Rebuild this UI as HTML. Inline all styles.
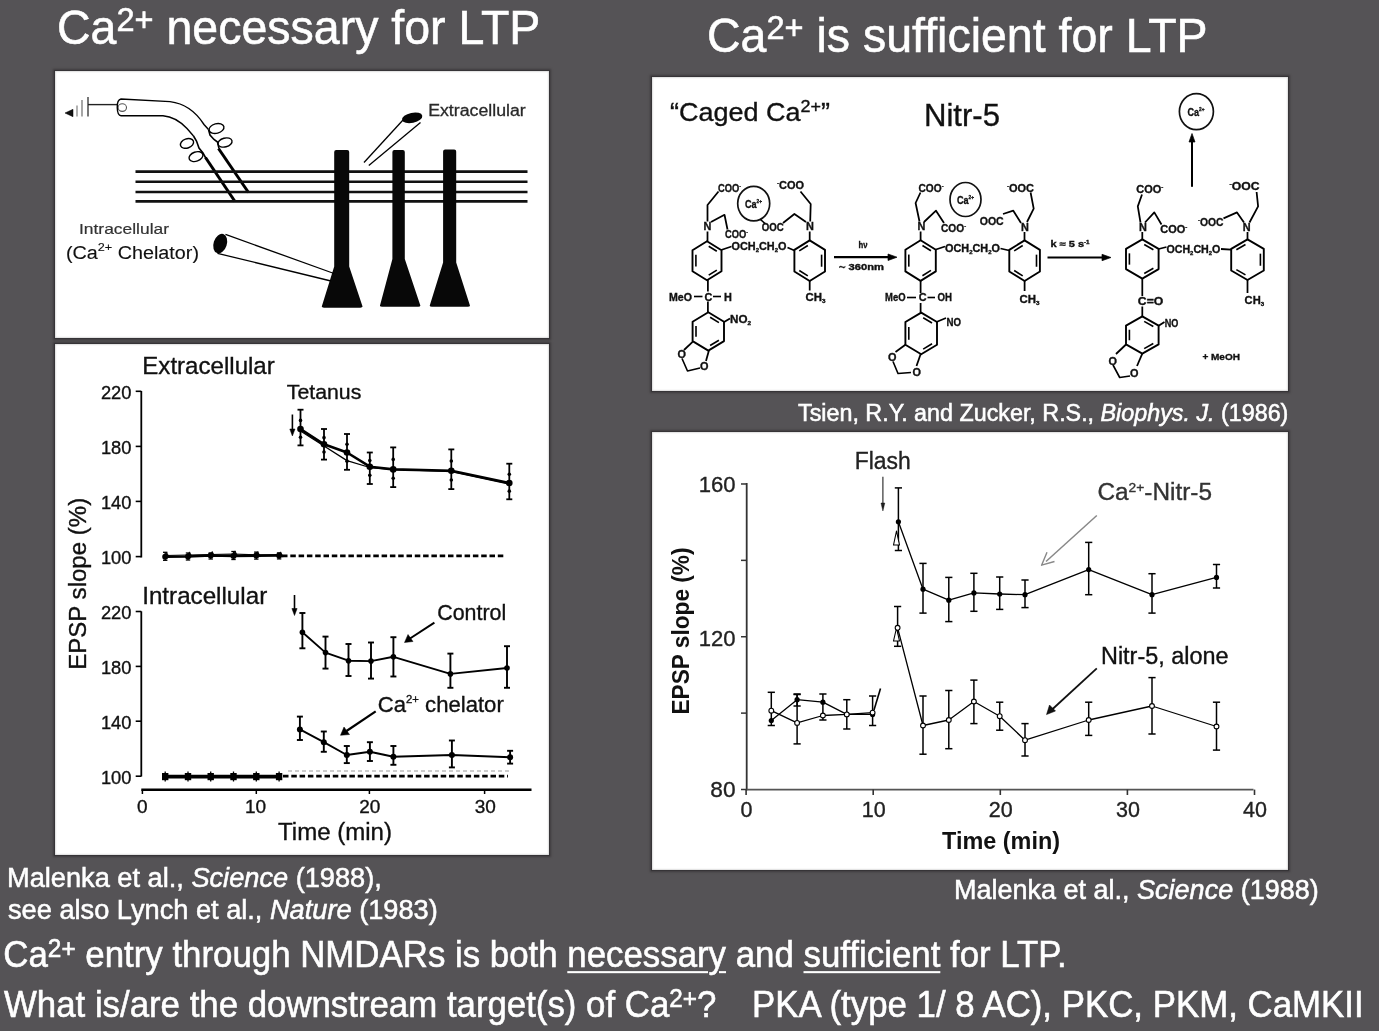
<!DOCTYPE html>
<html><head><meta charset="utf-8">
<style>
html,body{margin:0;padding:0;}
body{width:1379px;height:1031px;background:#555356;position:relative;overflow:hidden;font-family:"Liberation Sans",sans-serif;color:#fff;}
.t{position:absolute;white-space:pre;line-height:1;-webkit-text-stroke:0.55px #fff;transform:scaleY(1.035);transform-origin:0 0.8467em;}
.box{position:absolute;background:#fff;box-shadow:inset 0 0 1.5px 0.5px rgba(0,0,0,0.22), 0 0 0 1px #363437, 0 0 2px 2px rgba(40,38,40,0.5);}
sup{font-size:0.7em;vertical-align:0;position:relative;top:-0.42em;}
u{text-decoration:underline;text-decoration-thickness:2px;text-underline-offset:4px;}
svg{position:absolute;left:0;top:0;}
</style></head><body>
<div id="wrap" style="position:absolute;left:0;top:0;width:1379px;height:1031px;filter:blur(0.45px);">
<div class="t" id="t1" style="left:57px;top:5.1px;font-size:46.5px;">Ca<sup style="top:-0.39em">2+</sup> necessary for LTP</div>
<div class="t" id="t2" style="left:707px;top:12.7px;font-size:46.5px;">Ca<sup style="top:-0.39em">2+</sup> is sufficient for LTP</div>
<div class="box" id="b1" style="left:55px;top:71px;width:494px;height:267px;"></div>
<div class="box" id="b2" style="left:55px;top:344px;width:494px;height:511px;"></div>
<div class="box" id="b3" style="left:652px;top:77px;width:636px;height:314px;"></div>
<div class="box" id="b4" style="left:652px;top:432px;width:636px;height:438px;"></div>
<svg width="1379" height="1031" viewBox="0 0 1379 1031" font-family='"Liberation Sans", sans-serif'>
<polygon points="65.0,113.0 73.0,109.3 73.0,116.7" stroke="#000" stroke-width="0.5" fill="#111" stroke-linejoin="round"/>
<line x1="77" y1="105.5" x2="77" y2="116.5" stroke="#888" stroke-width="1.3"/>
<line x1="82" y1="100" x2="82" y2="116.5" stroke="#777" stroke-width="1.3"/>
<line x1="88" y1="97" x2="88" y2="116.5" stroke="#555" stroke-width="1.6"/>
<line x1="88" y1="104.6" x2="117.5" y2="104.6" stroke="#222" stroke-width="1.4"/>
<ellipse cx="122.3" cy="107.6" rx="4.2" ry="3.8" stroke="#555" stroke-width="1.1" fill="none"/>
<path d="M193.5,136 L187,128.5 C180,121 173,116.5 163,115.7 L121,115.7 C116.5,115.5 115.5,100 121,99 L170,101.6 C186,103.5 196,112 204,124.5 L208.5,129.5" stroke="#000" stroke-width="1.4" fill="none"/>
<ellipse cx="187" cy="143.4" rx="6.8" ry="4.6" transform="rotate(-20 187 143.4)" stroke="#000" stroke-width="1.4" fill="none"/>
<ellipse cx="196" cy="156.6" rx="7.2" ry="4.6" transform="rotate(-20 196 156.6)" stroke="#000" stroke-width="1.4" fill="none"/>
<path d="M193.5,136 L196.5,141 L199,148 L203,153 L206,158.5" stroke="#000" stroke-width="1.6" fill="none"/>
<ellipse cx="216.5" cy="128.5" rx="7.6" ry="4.8" transform="rotate(-15 216.5 128.5)" stroke="#000" stroke-width="1.4" fill="none"/>
<ellipse cx="225" cy="142.5" rx="7.2" ry="4.4" transform="rotate(-15 225 142.5)" stroke="#000" stroke-width="1.4" fill="none"/>
<path d="M208.5,129.5 L210,135 L214,139.5 L217.5,142 L219,148.5" stroke="#000" stroke-width="1.6" fill="none"/>
<line x1="205.5" y1="157.5" x2="235" y2="201.5" stroke="#000" stroke-width="3.0"/>
<line x1="218.5" y1="148.5" x2="248.5" y2="192.5" stroke="#000" stroke-width="3.0"/>
<line x1="135.5" y1="171.6" x2="527.5" y2="171.6" stroke="#111" stroke-width="2.6"/>
<line x1="135.5" y1="181.8" x2="527.5" y2="181.8" stroke="#111" stroke-width="2.6"/>
<line x1="135.5" y1="192.0" x2="527.5" y2="192.0" stroke="#111" stroke-width="2.6"/>
<line x1="135.5" y1="201.4" x2="527.5" y2="201.4" stroke="#111" stroke-width="2.6"/>
<path d="M334.2,152 Q334.2,150 336.2,150 L347.2,150 Q349.2,150 349.2,152 L349.2,266.4 L362.3,305.7 Q363.3,307.7 360.3,307.7 L324,307.7 Q321,307.7 322,305.7 L334.2,266.4 Z" fill="#080808" stroke="none"/>
<path d="M392.4,152 Q392.4,150 394.4,150 L402.8,150 Q404.8,150 404.8,152 L404.8,258.9 L420.1,304.8 Q421.1,306.8 418.1,306.8 L382.2,306.8 Q379.2,306.8 380.2,304.8 L392.4,258.9 Z" fill="#080808" stroke="none"/>
<path d="M443.1,151.5 Q443.1,149.5 445.1,149.5 L454.2,149.5 Q456.2,149.5 456.2,151.5 L456.2,262.6 L469.7,304.8 Q470.7,306.8 467.7,306.8 L432,306.8 Q429,306.8 430,304.8 L443.1,262.6 Z" fill="#080808" stroke="none"/>
<ellipse cx="412.2" cy="117.8" rx="10.3" ry="5" transform="rotate(-12 412.2 117.8)" fill="#050505"/>
<line x1="403" y1="120" x2="364" y2="162.5" stroke="#000" stroke-width="1.3"/>
<line x1="420.5" y1="122.5" x2="368.8" y2="165.5" stroke="#000" stroke-width="1.3"/>
<text x="428.2" y="116" font-size="16" textLength="97.5" lengthAdjust="spacingAndGlyphs" fill="#2a2a2a" stroke="#2a2a2a" stroke-width="0.3">Extracellular</text>
<line x1="225.5" y1="234.4" x2="334" y2="273.5" stroke="#000" stroke-width="1.3"/>
<line x1="217.5" y1="253.3" x2="331" y2="281" stroke="#000" stroke-width="1.3"/>
<ellipse cx="220.2" cy="243.6" rx="6.6" ry="10" transform="rotate(18 220.2 243.6)" fill="#050505"/>
<text x="79" y="233.6" font-size="15" textLength="90" lengthAdjust="spacingAndGlyphs" fill="#333" stroke="#333" stroke-width="0.2">Intracellular</text>
<text x="66" y="258.8" font-size="18" textLength="133" lengthAdjust="spacingAndGlyphs" fill="#111" stroke="#111" stroke-width="0.12">(Ca<tspan font-size="11.5" dy="-7.5">2+</tspan><tspan dy="7.5"> Chelator)</tspan></text>
<text x="670" y="121" font-size="25.5" textLength="160" lengthAdjust="spacingAndGlyphs" fill="#111" stroke="#111" stroke-width="0.35">“Caged Ca<tspan font-size="17" dy="-9">2+</tspan><tspan dy="9">”</tspan></text>
<text x="924" y="125.6" font-size="31" textLength="76" lengthAdjust="spacingAndGlyphs" fill="#111" stroke="#111" stroke-width="0.35">Nitr-5</text>
<polygon points="707.0,241.2 721.5,250.2 721.5,271.2 707.0,280.2 692.5,271.2 692.5,250.2" stroke="#000" stroke-width="1.89" fill="none" stroke-linejoin="round"/>
<line x1="708.7104265541632" y1="246.24118643966258" x2="716.8304265541631" y2="251.2811864396626" stroke="#000" stroke-width="1.62"/>
<line x1="716.8304265541631" y1="270.1188135603374" x2="708.7104265541632" y2="275.15881356033736" stroke="#000" stroke-width="1.62"/>
<line x1="695.9" y1="266.58" x2="695.9" y2="254.82" stroke="#000" stroke-width="1.62"/>
<polygon points="809.7,240.4 825.0,249.9 825.0,271.5 809.7,281.0 794.4,271.5 794.4,249.9" stroke="#000" stroke-width="1.89" fill="none" stroke-linejoin="round"/>
<line x1="821.6" y1="254.652" x2="821.6" y2="266.748" stroke="#000" stroke-width="1.62"/>
<line x1="807.8348752961049" y1="275.8592011954994" x2="799.2668752961049" y2="270.53920119549934" stroke="#000" stroke-width="1.62"/>
<line x1="799.2668752961049" y1="250.86079880450058" x2="807.8348752961049" y2="245.54079880450058" stroke="#000" stroke-width="1.62"/>
<polygon points="708.3,312.2 724.0,321.7 724.0,341.1 708.3,350.6 692.6,341.1 692.6,321.7" stroke="#000" stroke-width="1.89" fill="none" stroke-linejoin="round"/>
<line x1="710.1309752050354" y1="317.2776061512405" x2="718.9229752050353" y2="322.59760615124054" stroke="#000" stroke-width="1.62"/>
<line x1="718.9229752050353" y1="340.2023938487594" x2="710.1309752050354" y2="345.52239384875946" stroke="#000" stroke-width="1.62"/>
<line x1="695.9999999999999" y1="336.832" x2="695.9999999999999" y2="325.96799999999996" stroke="#000" stroke-width="1.62"/>
<text x="703.5" y="230" font-size="10.88" font-weight="bold" fill="#111" stroke="#111" stroke-width="0.35">N</text>
<line x1="707.5" y1="241" x2="707.5" y2="231.5" stroke="#000" stroke-width="1.76"/>
<polyline points="707.5,221.5 707.5,205.0 718.5,191.5" stroke="#000" stroke-width="1.76" fill="none" stroke-linejoin="round"/>
<text x="718" y="192.3" font-size="10.88" font-weight="bold" textLength="23" lengthAdjust="spacingAndGlyphs" fill="#111" stroke="#111" stroke-width="0.35">COO<tspan font-size="6" dy="-4">-</tspan></text>
<polyline points="711.0,222.0 724.5,214.8 727.5,229.5" stroke="#000" stroke-width="1.76" fill="none" stroke-linejoin="round"/>
<text x="725" y="238.2" font-size="10.88" font-weight="bold" textLength="23" lengthAdjust="spacingAndGlyphs" fill="#111" stroke="#111" stroke-width="0.35">COO<tspan font-size="6" dy="-4">-</tspan></text>
<ellipse cx="753.7" cy="203.6" rx="16" ry="17.3" stroke="#111" stroke-width="1.7" fill="none"/>
<text x="745" y="207.8" font-size="11.52" font-weight="bold" textLength="17" lengthAdjust="spacingAndGlyphs" fill="#111" stroke="#111" stroke-width="0.35">Ca<tspan font-size="6" dy="-5">2+</tspan></text>
<line x1="721.1" y1="250" x2="731.5" y2="246.5" stroke="#000" stroke-width="1.76"/>
<text x="731.5" y="250.4" font-size="10.88" font-weight="bold" textLength="55" lengthAdjust="spacingAndGlyphs" fill="#111" stroke="#111" stroke-width="0.35">OCH<tspan font-size="6" dy="2">2</tspan><tspan dy="-2">CH</tspan><tspan font-size="6" dy="2">2</tspan><tspan dy="-2">O</tspan></text>
<line x1="787.5" y1="247.5" x2="794.4" y2="250.5" stroke="#000" stroke-width="1.76"/>
<text x="806" y="230" font-size="10.88" font-weight="bold" fill="#111" stroke="#111" stroke-width="0.35">N</text>
<line x1="809.7" y1="240.5" x2="809.7" y2="231.5" stroke="#000" stroke-width="1.76"/>
<polyline points="810.2,221.5 810.7,204.0 800.5,191.5" stroke="#000" stroke-width="1.76" fill="none" stroke-linejoin="round"/>
<text x="777" y="189" font-size="10.88" font-weight="bold" textLength="27" lengthAdjust="spacingAndGlyphs" fill="#111" stroke="#111" stroke-width="0.35"><tspan font-size="6" dy="-4">-</tspan><tspan dy="4">COO</tspan></text>
<polyline points="806.0,222.0 794.4,214.0 783.0,223.0" stroke="#000" stroke-width="1.76" fill="none" stroke-linejoin="round"/>
<text x="761.8" y="231" font-size="10.88" font-weight="bold" textLength="22" lengthAdjust="spacingAndGlyphs" fill="#111" stroke="#111" stroke-width="0.35">OOC</text>
<line x1="760.5" y1="219.5" x2="765" y2="223.5" stroke="#000" stroke-width="1.62"/>
<line x1="809.7" y1="281" x2="809.7" y2="290.5" stroke="#000" stroke-width="1.76"/>
<text x="805.5" y="301" font-size="10.88" font-weight="bold" textLength="20" lengthAdjust="spacingAndGlyphs" fill="#111" stroke="#111" stroke-width="0.35">CH<tspan font-size="6" dy="2">3</tspan></text>
<line x1="707.9" y1="280" x2="707.9" y2="291.5" stroke="#000" stroke-width="1.76"/>
<text x="669" y="300.5" font-size="10.88" font-weight="bold" textLength="23" lengthAdjust="spacingAndGlyphs" fill="#111" stroke="#111" stroke-width="0.35">MeO</text>
<line x1="694" y1="296.5" x2="702.5" y2="296.5" stroke="#000" stroke-width="1.62"/>
<text x="704.5" y="300.5" font-size="10.88" font-weight="bold" fill="#111" stroke="#111" stroke-width="0.35">C</text>
<line x1="713" y1="296.5" x2="721" y2="296.5" stroke="#000" stroke-width="1.62"/>
<text x="724" y="300.5" font-size="10.88" font-weight="bold" fill="#111" stroke="#111" stroke-width="0.35">H</text>
<line x1="707.9" y1="301.5" x2="707.9" y2="312" stroke="#000" stroke-width="1.76"/>
<line x1="724.1" y1="321.9" x2="730" y2="318.5" stroke="#000" stroke-width="1.76"/>
<text x="730" y="322.5" font-size="10.88" font-weight="bold" textLength="21" lengthAdjust="spacingAndGlyphs" fill="#111" stroke="#111" stroke-width="0.35">NO<tspan font-size="6" dy="2">2</tspan></text>
<polyline points="692.6,341.9 684.0,350.0" stroke="#000" stroke-width="1.76" fill="none" stroke-linejoin="round"/>
<text x="677.5" y="357.5" font-size="10.88" font-weight="bold" fill="#111" stroke="#111" stroke-width="0.35">O</text>
<polyline points="682.0,358.5 687.5,371.0 700.0,368.0" stroke="#000" stroke-width="1.62" fill="none" stroke-linejoin="round"/>
<polyline points="708.9,350.6 706.0,361.0" stroke="#000" stroke-width="1.76" fill="none" stroke-linejoin="round"/>
<text x="700" y="369.5" font-size="10.88" font-weight="bold" fill="#111" stroke="#111" stroke-width="0.35">O</text>
<line x1="834" y1="257.2" x2="890" y2="257.2" stroke="#000" stroke-width="2.16"/>
<polygon points="897.0,257.2 888.0,254.0 888.0,260.5" stroke="#000" stroke-width="0.68" fill="#000" stroke-linejoin="round"/>
<text x="858.5" y="247.5" font-size="8.96" font-weight="bold" textLength="9" lengthAdjust="spacingAndGlyphs" fill="#111" stroke="#111" stroke-width="0.35">hν</text>
<text x="839" y="269.8" font-size="8.32" font-weight="bold" textLength="45" lengthAdjust="spacingAndGlyphs" fill="#111" stroke="#111" stroke-width="0.35">~ 360nm</text>
<polygon points="920.6,240.3 935.8,249.8 935.8,271.4 920.6,280.9 905.4,271.4 905.4,249.8" stroke="#000" stroke-width="1.89" fill="none" stroke-linejoin="round"/>
<line x1="922.4510378890265" y1="245.44467905600527" x2="930.9630378890264" y2="250.76467905600526" stroke="#000" stroke-width="1.62"/>
<line x1="930.9630378890264" y1="270.4353209439948" x2="922.4510378890265" y2="275.75532094399483" stroke="#000" stroke-width="1.62"/>
<line x1="908.8" y1="266.648" x2="908.8" y2="254.55200000000002" stroke="#000" stroke-width="1.62"/>
<polygon points="1024.6,240.4 1039.9,249.9 1039.9,271.5 1024.6,281.0 1009.3,271.5 1009.3,249.9" stroke="#000" stroke-width="1.89" fill="none" stroke-linejoin="round"/>
<line x1="1036.4999999999998" y1="254.652" x2="1036.4999999999998" y2="266.748" stroke="#000" stroke-width="1.62"/>
<line x1="1022.7348752961047" y1="275.8592011954994" x2="1014.1668752961048" y2="270.53920119549934" stroke="#000" stroke-width="1.62"/>
<line x1="1014.1668752961048" y1="250.86079880450058" x2="1022.7348752961047" y2="245.54079880450058" stroke="#000" stroke-width="1.62"/>
<polygon points="921.2,312.6 937.0,322.0 937.0,344.8 921.2,354.2 905.4,344.8 905.4,322.0" stroke="#000" stroke-width="1.89" fill="none" stroke-linejoin="round"/>
<line x1="923.1782667044621" y1="317.7203425390078" x2="932.026266704462" y2="322.9843425390078" stroke="#000" stroke-width="1.62"/>
<line x1="932.026266704462" y1="343.81565746099216" x2="923.1782667044621" y2="349.07965746099217" stroke="#000" stroke-width="1.62"/>
<line x1="908.8000000000001" y1="339.784" x2="908.8000000000001" y2="327.01599999999996" stroke="#000" stroke-width="1.62"/>
<text x="917.5" y="230" font-size="10.88" font-weight="bold" fill="#111" stroke="#111" stroke-width="0.35">N</text>
<line x1="920.6" y1="240.3" x2="920.6" y2="231.5" stroke="#000" stroke-width="1.76"/>
<polyline points="919.5,221.5 915.6,203.0 920.5,192.5" stroke="#000" stroke-width="1.76" fill="none" stroke-linejoin="round"/>
<text x="918.5" y="191.8" font-size="10.88" font-weight="bold" textLength="25" lengthAdjust="spacingAndGlyphs" fill="#111" stroke="#111" stroke-width="0.35">COO<tspan font-size="6" dy="-4">-</tspan></text>
<polyline points="924.0,222.0 936.0,210.7 944.0,223.0" stroke="#000" stroke-width="1.76" fill="none" stroke-linejoin="round"/>
<text x="941" y="232.3" font-size="10.88" font-weight="bold" textLength="25" lengthAdjust="spacingAndGlyphs" fill="#111" stroke="#111" stroke-width="0.35">COO<tspan font-size="6" dy="-4">-</tspan></text>
<ellipse cx="965.5" cy="199.5" rx="15.5" ry="17" stroke="#111" stroke-width="1.7" fill="none"/>
<text x="957" y="203.8" font-size="11.52" font-weight="bold" textLength="17" lengthAdjust="spacingAndGlyphs" fill="#111" stroke="#111" stroke-width="0.35">Ca<tspan font-size="6" dy="-5">2+</tspan></text>
<line x1="935.9" y1="249.5" x2="945" y2="246.5" stroke="#000" stroke-width="1.76"/>
<text x="945" y="251.5" font-size="10.88" font-weight="bold" textLength="55" lengthAdjust="spacingAndGlyphs" fill="#111" stroke="#111" stroke-width="0.35">OCH<tspan font-size="6" dy="2">2</tspan><tspan dy="-2">CH</tspan><tspan font-size="6" dy="2">2</tspan><tspan dy="-2">O</tspan></text>
<line x1="1000.5" y1="248.5" x2="1009.3" y2="250.5" stroke="#000" stroke-width="1.76"/>
<text x="1021" y="231" font-size="10.88" font-weight="bold" fill="#111" stroke="#111" stroke-width="0.35">N</text>
<line x1="1024.5" y1="240.5" x2="1024.5" y2="232" stroke="#000" stroke-width="1.76"/>
<polyline points="1027.0,222.0 1033.7,208.7 1030.6,192.5" stroke="#000" stroke-width="1.76" fill="none" stroke-linejoin="round"/>
<text x="1007" y="192.4" font-size="10.88" font-weight="bold" textLength="27" lengthAdjust="spacingAndGlyphs" fill="#111" stroke="#111" stroke-width="0.35"><tspan font-size="6" dy="-4">-</tspan><tspan dy="4">OOC</tspan></text>
<polyline points="1021.0,223.0 1013.3,210.7 1003.0,214.0" stroke="#000" stroke-width="1.76" fill="none" stroke-linejoin="round"/>
<text x="979.7" y="225" font-size="10.88" font-weight="bold" textLength="24" lengthAdjust="spacingAndGlyphs" fill="#111" stroke="#111" stroke-width="0.35">OOC</text>
<line x1="1024.6" y1="281" x2="1024.6" y2="291" stroke="#000" stroke-width="1.76"/>
<text x="1019.4" y="302.5" font-size="10.88" font-weight="bold" textLength="20" lengthAdjust="spacingAndGlyphs" fill="#111" stroke="#111" stroke-width="0.35">CH<tspan font-size="6" dy="2">3</tspan></text>
<line x1="920.6" y1="281" x2="920.6" y2="293" stroke="#000" stroke-width="1.76"/>
<text x="885" y="301.4" font-size="10.88" font-weight="bold" textLength="20.5" lengthAdjust="spacingAndGlyphs" fill="#111" stroke="#111" stroke-width="0.35">MeO</text>
<line x1="907" y1="297.5" x2="916" y2="297.5" stroke="#000" stroke-width="1.62"/>
<text x="918.8" y="301.4" font-size="10.88" font-weight="bold" fill="#111" stroke="#111" stroke-width="0.35">C</text>
<line x1="927.5" y1="297.5" x2="935" y2="297.5" stroke="#000" stroke-width="1.62"/>
<text x="937.5" y="301.4" font-size="10.88" font-weight="bold" textLength="14.5" lengthAdjust="spacingAndGlyphs" fill="#111" stroke="#111" stroke-width="0.35">OH</text>
<line x1="920.6" y1="303" x2="920.6" y2="312.6" stroke="#000" stroke-width="1.76"/>
<line x1="937" y1="321.8" x2="946" y2="318" stroke="#000" stroke-width="1.76"/>
<text x="946.5" y="325.5" font-size="10.88" font-weight="bold" textLength="14.5" lengthAdjust="spacingAndGlyphs" fill="#111" stroke="#111" stroke-width="0.35">NO</text>
<polyline points="905.4,344.8 895.5,352.0" stroke="#000" stroke-width="1.76" fill="none" stroke-linejoin="round"/>
<text x="888" y="360.5" font-size="10.88" font-weight="bold" fill="#111" stroke="#111" stroke-width="0.35">O</text>
<polyline points="893.0,361.5 898.0,373.5 911.0,372.5" stroke="#000" stroke-width="1.62" fill="none" stroke-linejoin="round"/>
<polyline points="920.6,354.2 916.5,366.0" stroke="#000" stroke-width="1.76" fill="none" stroke-linejoin="round"/>
<text x="912.5" y="376.3" font-size="10.88" font-weight="bold" fill="#111" stroke="#111" stroke-width="0.35">O</text>
<line x1="1047.5" y1="257.5" x2="1104" y2="257.5" stroke="#000" stroke-width="2.16"/>
<polygon points="1111.0,257.5 1102.0,254.3 1102.0,260.7" stroke="#000" stroke-width="0.68" fill="#000" stroke-linejoin="round"/>
<text x="1050.5" y="247.2" font-size="8.96" font-weight="bold" textLength="39" lengthAdjust="spacingAndGlyphs" fill="#111" stroke="#111" stroke-width="0.35">k ≈ 5 s<tspan font-size="5" dy="-3">-1</tspan></text>
<polygon points="1142.3,239.4 1158.6,248.9 1158.6,269.1 1142.3,278.6 1126.0,269.1 1126.0,248.9" stroke="#000" stroke-width="1.89" fill="none" stroke-linejoin="round"/>
<line x1="1144.2501736672127" y1="244.47061607875955" x2="1153.3781736672126" y2="249.79061607875954" stroke="#000" stroke-width="1.62"/>
<line x1="1153.3781736672126" y1="268.20938392124043" x2="1144.2501736672127" y2="273.5293839212405" stroke="#000" stroke-width="1.62"/>
<line x1="1129.4" y1="264.656" x2="1129.4" y2="253.34400000000002" stroke="#000" stroke-width="1.62"/>
<polygon points="1247.5,239.4 1263.8,248.9 1263.8,270.5 1247.5,280.0 1231.2,270.5 1231.2,248.9" stroke="#000" stroke-width="1.89" fill="none" stroke-linejoin="round"/>
<line x1="1260.3999999999999" y1="253.652" x2="1260.3999999999999" y2="265.748" stroke="#000" stroke-width="1.62"/>
<line x1="1245.4923473853412" y1="274.89855192122025" x2="1236.3643473853413" y2="269.5785519212202" stroke="#000" stroke-width="1.62"/>
<line x1="1236.3643473853413" y1="249.82144807877978" x2="1245.4923473853412" y2="244.5014480787798" stroke="#000" stroke-width="1.62"/>
<polygon points="1142.3,316.4 1158.6,325.6 1158.6,344.4 1142.3,353.6 1126.0,344.4 1126.0,325.6" stroke="#000" stroke-width="1.89" fill="none" stroke-linejoin="round"/>
<line x1="1144.175449140491" y1="321.36236957461665" x2="1153.303449140491" y2="326.51436957461664" stroke="#000" stroke-width="1.62"/>
<line x1="1153.303449140491" y1="343.48563042538336" x2="1144.175449140491" y2="348.63763042538335" stroke="#000" stroke-width="1.62"/>
<line x1="1129.4" y1="340.264" x2="1129.4" y2="329.736" stroke="#000" stroke-width="1.62"/>
<text x="1139" y="231" font-size="10.88" font-weight="bold" fill="#111" stroke="#111" stroke-width="0.35">N</text>
<line x1="1142.3" y1="239.4" x2="1142.3" y2="232" stroke="#000" stroke-width="1.76"/>
<polyline points="1140.5,222.5 1137.8,206.4 1142.0,194.5" stroke="#000" stroke-width="1.76" fill="none" stroke-linejoin="round"/>
<text x="1136.3" y="192.8" font-size="10.88" font-weight="bold" textLength="27" lengthAdjust="spacingAndGlyphs" fill="#111" stroke="#111" stroke-width="0.35">COO<tspan font-size="6" dy="-4">-</tspan></text>
<polyline points="1145.0,222.5 1154.3,212.4 1161.5,224.5" stroke="#000" stroke-width="1.76" fill="none" stroke-linejoin="round"/>
<text x="1160.3" y="233.4" font-size="10.88" font-weight="bold" textLength="27" lengthAdjust="spacingAndGlyphs" fill="#111" stroke="#111" stroke-width="0.35">COO<tspan font-size="6" dy="-4">-</tspan></text>
<ellipse cx="1196.4" cy="111.6" rx="17" ry="18" stroke="#111" stroke-width="1.7" fill="none"/>
<text x="1187.5" y="115.8" font-size="11.52" font-weight="bold" textLength="17" lengthAdjust="spacingAndGlyphs" fill="#111" stroke="#111" stroke-width="0.35">Ca<tspan font-size="6" dy="-5">2+</tspan></text>
<line x1="1192" y1="186.8" x2="1192" y2="140" stroke="#000" stroke-width="2.03"/>
<polygon points="1192.0,133.5 1189.0,142.0 1195.0,142.0" stroke="#000" stroke-width="0.68" fill="#000" stroke-linejoin="round"/>
<line x1="1158.6" y1="249" x2="1166.5" y2="247" stroke="#000" stroke-width="1.76"/>
<text x="1166.4" y="252.5" font-size="10.88" font-weight="bold" textLength="54" lengthAdjust="spacingAndGlyphs" fill="#111" stroke="#111" stroke-width="0.35">OCH<tspan font-size="6" dy="2">2</tspan><tspan dy="-2">CH</tspan><tspan font-size="6" dy="2">2</tspan><tspan dy="-2">O</tspan></text>
<line x1="1221" y1="249" x2="1231.2" y2="249.7" stroke="#000" stroke-width="1.76"/>
<text x="1242.8" y="231" font-size="10.88" font-weight="bold" fill="#111" stroke="#111" stroke-width="0.35">N</text>
<line x1="1247.5" y1="239.4" x2="1247.5" y2="232" stroke="#000" stroke-width="1.76"/>
<polyline points="1249.5,222.5 1258.1,206.4 1256.6,192.0" stroke="#000" stroke-width="1.76" fill="none" stroke-linejoin="round"/>
<text x="1229.5" y="189.8" font-size="10.88" font-weight="bold" textLength="30" lengthAdjust="spacingAndGlyphs" fill="#111" stroke="#111" stroke-width="0.35"><tspan font-size="6" dy="-4">-</tspan><tspan dy="4">OOC</tspan></text>
<polyline points="1244.0,222.5 1237.0,212.4 1223.5,218.4" stroke="#000" stroke-width="1.76" fill="none" stroke-linejoin="round"/>
<text x="1198" y="225.9" font-size="10.88" font-weight="bold" textLength="25.5" lengthAdjust="spacingAndGlyphs" fill="#111" stroke="#111" stroke-width="0.35"><tspan font-size="6" dy="-4">-</tspan><tspan dy="4">OOC</tspan></text>
<line x1="1247.5" y1="280" x2="1247.5" y2="293" stroke="#000" stroke-width="1.76"/>
<text x="1244.6" y="304" font-size="10.88" font-weight="bold" textLength="19.5" lengthAdjust="spacingAndGlyphs" fill="#111" stroke="#111" stroke-width="0.35">CH<tspan font-size="6" dy="2">3</tspan></text>
<line x1="1142.3" y1="278.6" x2="1142.3" y2="296" stroke="#000" stroke-width="1.76"/>
<text x="1137.8" y="305.3" font-size="10.88" font-weight="bold" textLength="25.5" lengthAdjust="spacingAndGlyphs" fill="#111" stroke="#111" stroke-width="0.35">C=O</text>
<line x1="1142.3" y1="306.5" x2="1142.3" y2="316.4" stroke="#000" stroke-width="1.76"/>
<line x1="1158.6" y1="325.8" x2="1164.5" y2="322" stroke="#000" stroke-width="1.76"/>
<text x="1164.8" y="326.5" font-size="10.88" font-weight="bold" textLength="13.6" lengthAdjust="spacingAndGlyphs" fill="#111" stroke="#111" stroke-width="0.35">NO</text>
<polyline points="1126.0,344.5 1116.0,354.0" stroke="#000" stroke-width="1.76" fill="none" stroke-linejoin="round"/>
<text x="1108.5" y="364.5" font-size="10.88" font-weight="bold" fill="#111" stroke="#111" stroke-width="0.35">O</text>
<polyline points="1113.0,365.0 1119.7,377.5 1130.0,376.0" stroke="#000" stroke-width="1.62" fill="none" stroke-linejoin="round"/>
<polyline points="1142.3,353.6 1137.0,366.0" stroke="#000" stroke-width="1.76" fill="none" stroke-linejoin="round"/>
<text x="1130" y="377" font-size="10.88" font-weight="bold" fill="#111" stroke="#111" stroke-width="0.35">O</text>
<text x="1202.4" y="359.8" font-size="9.6" font-weight="bold" textLength="37.6" lengthAdjust="spacingAndGlyphs" fill="#111" stroke="#111" stroke-width="0.35">+ MeOH</text>
<line x1="141.3" y1="391" x2="141.3" y2="557.5" stroke="#000" stroke-width="1.8"/>
<line x1="135.7" y1="391.3" x2="141.3" y2="391.3" stroke="#000" stroke-width="1.6"/>
<line x1="135.7" y1="446.4" x2="141.3" y2="446.4" stroke="#000" stroke-width="1.6"/>
<line x1="135.7" y1="501.4" x2="141.3" y2="501.4" stroke="#000" stroke-width="1.6"/>
<line x1="135.7" y1="556.6" x2="141.3" y2="556.6" stroke="#000" stroke-width="1.6"/>
<line x1="141.3" y1="611.3" x2="141.3" y2="776.5" stroke="#000" stroke-width="1.8"/>
<line x1="135.7" y1="611.5" x2="141.3" y2="611.5" stroke="#000" stroke-width="1.6"/>
<line x1="135.7" y1="666.4" x2="141.3" y2="666.4" stroke="#000" stroke-width="1.6"/>
<line x1="135.7" y1="721.2" x2="141.3" y2="721.2" stroke="#000" stroke-width="1.6"/>
<line x1="135.7" y1="776.2" x2="141.3" y2="776.2" stroke="#000" stroke-width="1.6"/>
<line x1="141.3" y1="789.7" x2="531.5" y2="789.7" stroke="#000" stroke-width="2.6"/>
<line x1="142.4" y1="789.6" x2="142.4" y2="794" stroke="#000" stroke-width="1.5"/>
<line x1="256.3" y1="789.6" x2="256.3" y2="794" stroke="#000" stroke-width="1.5"/>
<line x1="369.4" y1="789.6" x2="369.4" y2="794" stroke="#000" stroke-width="1.5"/>
<line x1="484.6" y1="789.6" x2="484.6" y2="794" stroke="#000" stroke-width="1.5"/>
<text x="131.5" y="398.9" font-size="19" text-anchor="end" textLength="30.6" lengthAdjust="spacingAndGlyphs" fill="#111" stroke="#111" stroke-width="0.35">220</text>
<text x="131.5" y="454" font-size="19" text-anchor="end" textLength="30.6" lengthAdjust="spacingAndGlyphs" fill="#111" stroke="#111" stroke-width="0.35">180</text>
<text x="131.5" y="509" font-size="19" text-anchor="end" textLength="30.6" lengthAdjust="spacingAndGlyphs" fill="#111" stroke="#111" stroke-width="0.35">140</text>
<text x="131.5" y="564.2" font-size="19" text-anchor="end" textLength="30.6" lengthAdjust="spacingAndGlyphs" fill="#111" stroke="#111" stroke-width="0.35">100</text>
<text x="131.5" y="619" font-size="19" text-anchor="end" textLength="30.6" lengthAdjust="spacingAndGlyphs" fill="#111" stroke="#111" stroke-width="0.35">220</text>
<text x="131.5" y="674" font-size="19" text-anchor="end" textLength="30.6" lengthAdjust="spacingAndGlyphs" fill="#111" stroke="#111" stroke-width="0.35">180</text>
<text x="131.5" y="728.8" font-size="19" text-anchor="end" textLength="30.6" lengthAdjust="spacingAndGlyphs" fill="#111" stroke="#111" stroke-width="0.35">140</text>
<text x="131.5" y="783.8" font-size="19" text-anchor="end" textLength="30.6" lengthAdjust="spacingAndGlyphs" fill="#111" stroke="#111" stroke-width="0.35">100</text>
<text x="142.3" y="813.2" font-size="19" text-anchor="middle" fill="#111" stroke="#111" stroke-width="0.35">0</text>
<text x="255.6" y="813.2" font-size="19" text-anchor="middle" fill="#111" stroke="#111" stroke-width="0.35">10</text>
<text x="369.8" y="813.2" font-size="19" text-anchor="middle" fill="#111" stroke="#111" stroke-width="0.35">20</text>
<text x="485.2" y="813.2" font-size="19" text-anchor="middle" fill="#111" stroke="#111" stroke-width="0.35">30</text>
<text x="278" y="839.7" font-size="23.5" textLength="114" lengthAdjust="spacingAndGlyphs" fill="#111" stroke="#111" stroke-width="0.35">Time (min)</text>
<text x="0" y="0" font-size="23.5" textLength="172" lengthAdjust="spacingAndGlyphs" fill="#111" transform="translate(85.5,669.8) rotate(-90)" stroke="#111" stroke-width="0.35">EPSP slope (%)</text>
<text x="142.3" y="373.6" font-size="24.5" textLength="132.5" lengthAdjust="spacingAndGlyphs" fill="#111" stroke="#111" stroke-width="0.35">Extracellular</text>
<text x="142.2" y="603.6" font-size="24.5" textLength="125" lengthAdjust="spacingAndGlyphs" fill="#111" stroke="#111" stroke-width="0.35">Intracellular</text>
<text x="286.8" y="398.8" font-size="20.5" textLength="74.5" lengthAdjust="spacingAndGlyphs" fill="#111" stroke="#111" stroke-width="0.35">Tetanus</text>
<text x="437.2" y="620.2" font-size="21.5" textLength="69" lengthAdjust="spacingAndGlyphs" fill="#111" stroke="#111" stroke-width="0.35">Control</text>
<text x="377.8" y="711.5" font-size="21.5" textLength="126" lengthAdjust="spacingAndGlyphs" fill="#111" stroke="#111" stroke-width="0.35">Ca<tspan font-size="11" dy="-8.5">2+</tspan><tspan dy="8.5"> chelator</tspan></text>
<line x1="292.4" y1="414.5" x2="292.4" y2="432" stroke="#000" stroke-width="1.6"/>
<polygon points="292.4,436.0 289.8,429.0 295.0,429.0" stroke="#000" stroke-width="0.5" fill="#000" stroke-linejoin="round"/>
<line x1="294.5" y1="595" x2="294.5" y2="611" stroke="#000" stroke-width="1.6"/>
<polygon points="294.5,615.5 291.9,608.5 297.1,608.5" stroke="#000" stroke-width="0.5" fill="#000" stroke-linejoin="round"/>
<line x1="434.4" y1="622.7" x2="410" y2="638.5" stroke="#000" stroke-width="2.0"/>
<polygon points="404.5,642.5 408.0,634.5 413.0,641.5" stroke="#000" stroke-width="0.5" fill="#000" stroke-linejoin="round"/>
<line x1="375.7" y1="711.3" x2="346.5" y2="731" stroke="#000" stroke-width="2.2"/>
<polygon points="340.5,735.3 344.0,727.0 349.5,734.5" stroke="#000" stroke-width="0.5" fill="#000" stroke-linejoin="round"/>
<line x1="282" y1="555.8" x2="506" y2="555.8" stroke="#000" stroke-width="2.8" stroke-dasharray="5.5 2.8"/>
<line x1="283" y1="776.2" x2="508" y2="776.2" stroke="#000" stroke-width="2.8" stroke-dasharray="5.5 2.8"/>
<line x1="288" y1="771" x2="511" y2="771" stroke="#999" stroke-width="1" stroke-dasharray="4 3"/>
<polyline points="165.2,556.8 188.0,556.5 210.7,555.5 233.5,556.0 256.3,555.6 279.1,555.4" stroke="#000" stroke-width="2.6" fill="none" stroke-linejoin="round"/>
<polyline points="165.2,555.5 188.0,555.0 210.7,554.5 233.5,554.0 256.3,554.8 279.1,555.0" stroke="#000" stroke-width="1.2" fill="none" stroke-linejoin="round"/>
<line x1="165.2" y1="552.3" x2="165.2" y2="560.3" stroke="#000" stroke-width="1.3"/>
<line x1="163.0" y1="552.3" x2="167.39999999999998" y2="552.3" stroke="#000" stroke-width="1.3"/>
<line x1="163.0" y1="560.3" x2="167.39999999999998" y2="560.3" stroke="#000" stroke-width="1.3"/>
<circle cx="165.2" cy="556.8" r="3" fill="#000"/>
<polygon points="166.7,552.3 164.0,557.3 169.4,557.3" stroke="#000" stroke-width="0.5" fill="#000" stroke-linejoin="round"/>
<line x1="188" y1="553.0" x2="188" y2="560.0" stroke="#000" stroke-width="1.3"/>
<line x1="185.8" y1="553.0" x2="190.2" y2="553.0" stroke="#000" stroke-width="1.3"/>
<line x1="185.8" y1="560.0" x2="190.2" y2="560.0" stroke="#000" stroke-width="1.3"/>
<circle cx="188" cy="556.5" r="3" fill="#000"/>
<polygon points="189.5,551.8 186.8,556.8 192.2,556.8" stroke="#000" stroke-width="0.5" fill="#000" stroke-linejoin="round"/>
<line x1="210.7" y1="553.0" x2="210.7" y2="559.0" stroke="#000" stroke-width="1.3"/>
<line x1="208.5" y1="553.0" x2="212.89999999999998" y2="553.0" stroke="#000" stroke-width="1.3"/>
<line x1="208.5" y1="559.0" x2="212.89999999999998" y2="559.0" stroke="#000" stroke-width="1.3"/>
<circle cx="210.7" cy="555.5" r="3" fill="#000"/>
<polygon points="212.2,551.3 209.5,556.3 214.9,556.3" stroke="#000" stroke-width="0.5" fill="#000" stroke-linejoin="round"/>
<line x1="233.5" y1="551.5" x2="233.5" y2="559.5" stroke="#000" stroke-width="1.3"/>
<line x1="231.3" y1="551.5" x2="235.7" y2="551.5" stroke="#000" stroke-width="1.3"/>
<line x1="231.3" y1="559.5" x2="235.7" y2="559.5" stroke="#000" stroke-width="1.3"/>
<circle cx="233.5" cy="556.0" r="3" fill="#000"/>
<polygon points="235.0,550.8 232.3,555.8 237.7,555.8" stroke="#000" stroke-width="0.5" fill="#000" stroke-linejoin="round"/>
<line x1="256.3" y1="552.1" x2="256.3" y2="559.1" stroke="#000" stroke-width="1.3"/>
<line x1="254.10000000000002" y1="552.1" x2="258.5" y2="552.1" stroke="#000" stroke-width="1.3"/>
<line x1="254.10000000000002" y1="559.1" x2="258.5" y2="559.1" stroke="#000" stroke-width="1.3"/>
<circle cx="256.3" cy="555.6" r="3" fill="#000"/>
<polygon points="257.8,551.6 255.1,556.6 260.5,556.6" stroke="#000" stroke-width="0.5" fill="#000" stroke-linejoin="round"/>
<line x1="279.1" y1="552.9" x2="279.1" y2="558.9" stroke="#000" stroke-width="1.3"/>
<line x1="276.90000000000003" y1="552.9" x2="281.3" y2="552.9" stroke="#000" stroke-width="1.3"/>
<line x1="276.90000000000003" y1="558.9" x2="281.3" y2="558.9" stroke="#000" stroke-width="1.3"/>
<circle cx="279.1" cy="555.4" r="3" fill="#000"/>
<polygon points="280.6,551.8 277.9,556.8 283.3,556.8" stroke="#000" stroke-width="0.5" fill="#000" stroke-linejoin="round"/>
<polyline points="165.2,776.6 188.0,776.6 210.7,776.6 233.5,776.6 256.3,776.6 279.1,776.6" stroke="#000" stroke-width="3.6" fill="none" stroke-linejoin="round"/>
<rect x="162.0" y="773.0" width="6.4" height="7.2" fill="#000"/>
<line x1="165.2" y1="771.5" x2="165.2" y2="781.5" stroke="#000" stroke-width="1.3"/>
<rect x="184.8" y="773.0" width="6.4" height="7.2" fill="#000"/>
<line x1="188" y1="771.5" x2="188" y2="781.5" stroke="#000" stroke-width="1.3"/>
<rect x="207.5" y="773.0" width="6.4" height="7.2" fill="#000"/>
<line x1="210.7" y1="771.5" x2="210.7" y2="781.5" stroke="#000" stroke-width="1.3"/>
<rect x="230.3" y="773.0" width="6.4" height="7.2" fill="#000"/>
<line x1="233.5" y1="771.5" x2="233.5" y2="781.5" stroke="#000" stroke-width="1.3"/>
<rect x="253.10000000000002" y="773.0" width="6.4" height="7.2" fill="#000"/>
<line x1="256.3" y1="771.5" x2="256.3" y2="781.5" stroke="#000" stroke-width="1.3"/>
<rect x="275.90000000000003" y="773.0" width="6.4" height="7.2" fill="#000"/>
<line x1="279.1" y1="771.5" x2="279.1" y2="781.5" stroke="#000" stroke-width="1.3"/>
<polyline points="300.5,429.1 324.0,444.3 347.0,452.5 369.8,466.7 393.2,469.4 451.3,470.8 509.3,483.0" stroke="#000" stroke-width="2.6" fill="none" stroke-linejoin="round"/>
<polyline points="300.5,431.0 324.0,446.0 347.0,460.6 369.8,467.5 393.2,469.4 451.3,471.5 509.3,484.0" stroke="#000" stroke-width="1.3" fill="none" stroke-linejoin="round"/>
<line x1="300.5" y1="409.7" x2="300.5" y2="445.4" stroke="#000" stroke-width="1.8"/>
<line x1="297.5" y1="409.7" x2="303.5" y2="409.7" stroke="#000" stroke-width="1.8"/>
<line x1="297.5" y1="445.4" x2="303.5" y2="445.4" stroke="#000" stroke-width="1.8"/>
<circle cx="300.5" cy="429.1" r="3.3" fill="#000"/>
<circle cx="300.5" cy="420.4" r="1.8" fill="#000"/>
<circle cx="300.5" cy="437.25" r="1.8" fill="#000"/>
<line x1="324" y1="429" x2="324" y2="459.6" stroke="#000" stroke-width="1.8"/>
<line x1="321.0" y1="429" x2="327.0" y2="429" stroke="#000" stroke-width="1.8"/>
<line x1="321.0" y1="459.6" x2="327.0" y2="459.6" stroke="#000" stroke-width="1.8"/>
<circle cx="324" cy="444.3" r="3.3" fill="#000"/>
<circle cx="324" cy="437.65" r="1.8" fill="#000"/>
<circle cx="324" cy="451.95000000000005" r="1.8" fill="#000"/>
<line x1="347" y1="434" x2="347" y2="469.8" stroke="#000" stroke-width="1.8"/>
<line x1="344.0" y1="434" x2="350.0" y2="434" stroke="#000" stroke-width="1.8"/>
<line x1="344.0" y1="469.8" x2="350.0" y2="469.8" stroke="#000" stroke-width="1.8"/>
<circle cx="347" cy="452.5" r="3.3" fill="#000"/>
<circle cx="347" cy="444.25" r="1.8" fill="#000"/>
<circle cx="347" cy="461.15" r="1.8" fill="#000"/>
<line x1="369.8" y1="452.5" x2="369.8" y2="484" stroke="#000" stroke-width="1.8"/>
<line x1="366.8" y1="452.5" x2="372.8" y2="452.5" stroke="#000" stroke-width="1.8"/>
<line x1="366.8" y1="484" x2="372.8" y2="484" stroke="#000" stroke-width="1.8"/>
<circle cx="369.8" cy="466.7" r="3.3" fill="#000"/>
<circle cx="369.8" cy="460.6" r="1.8" fill="#000"/>
<circle cx="369.8" cy="475.35" r="1.8" fill="#000"/>
<line x1="393.2" y1="447.4" x2="393.2" y2="487.1" stroke="#000" stroke-width="1.8"/>
<line x1="390.2" y1="447.4" x2="396.2" y2="447.4" stroke="#000" stroke-width="1.8"/>
<line x1="390.2" y1="487.1" x2="396.2" y2="487.1" stroke="#000" stroke-width="1.8"/>
<circle cx="393.2" cy="469.4" r="3.3" fill="#000"/>
<circle cx="393.2" cy="459.4" r="1.8" fill="#000"/>
<circle cx="393.2" cy="478.25" r="1.8" fill="#000"/>
<line x1="451.3" y1="449.4" x2="451.3" y2="489.1" stroke="#000" stroke-width="1.8"/>
<line x1="448.3" y1="449.4" x2="454.3" y2="449.4" stroke="#000" stroke-width="1.8"/>
<line x1="448.3" y1="489.1" x2="454.3" y2="489.1" stroke="#000" stroke-width="1.8"/>
<circle cx="451.3" cy="470.8" r="3.3" fill="#000"/>
<circle cx="451.3" cy="461.1" r="1.8" fill="#000"/>
<circle cx="451.3" cy="479.95000000000005" r="1.8" fill="#000"/>
<line x1="509.3" y1="463.7" x2="509.3" y2="499.3" stroke="#000" stroke-width="1.8"/>
<line x1="506.3" y1="463.7" x2="512.3" y2="463.7" stroke="#000" stroke-width="1.8"/>
<line x1="506.3" y1="499.3" x2="512.3" y2="499.3" stroke="#000" stroke-width="1.8"/>
<circle cx="509.3" cy="483" r="3.3" fill="#000"/>
<circle cx="509.3" cy="474.35" r="1.8" fill="#000"/>
<circle cx="509.3" cy="491.15" r="1.8" fill="#000"/>
<polyline points="302.4,632.3 325.5,652.6 348.5,660.7 371.0,661.1 393.4,656.8 450.4,673.9 507.0,668.0" stroke="#000" stroke-width="1.9" fill="none" stroke-linejoin="round"/>
<line x1="302.4" y1="613" x2="302.4" y2="648.3" stroke="#000" stroke-width="1.9"/>
<line x1="299.4" y1="613" x2="305.4" y2="613" stroke="#000" stroke-width="1.9"/>
<line x1="299.4" y1="648.3" x2="305.4" y2="648.3" stroke="#000" stroke-width="1.9"/>
<circle cx="302.4" cy="632.3" r="2.8" fill="#000"/>
<line x1="325.5" y1="636.6" x2="325.5" y2="668.6" stroke="#000" stroke-width="1.9"/>
<line x1="322.5" y1="636.6" x2="328.5" y2="636.6" stroke="#000" stroke-width="1.9"/>
<line x1="322.5" y1="668.6" x2="328.5" y2="668.6" stroke="#000" stroke-width="1.9"/>
<circle cx="325.5" cy="652.6" r="2.8" fill="#000"/>
<line x1="348.5" y1="644" x2="348.5" y2="676" stroke="#000" stroke-width="1.9"/>
<line x1="345.5" y1="644" x2="351.5" y2="644" stroke="#000" stroke-width="1.9"/>
<line x1="345.5" y1="676" x2="351.5" y2="676" stroke="#000" stroke-width="1.9"/>
<circle cx="348.5" cy="660.7" r="2.8" fill="#000"/>
<line x1="371" y1="642.5" x2="371" y2="678.6" stroke="#000" stroke-width="1.9"/>
<line x1="368.0" y1="642.5" x2="374.0" y2="642.5" stroke="#000" stroke-width="1.9"/>
<line x1="368.0" y1="678.6" x2="374.0" y2="678.6" stroke="#000" stroke-width="1.9"/>
<circle cx="371" cy="661.1" r="2.8" fill="#000"/>
<line x1="393.4" y1="637.2" x2="393.4" y2="676.5" stroke="#000" stroke-width="1.9"/>
<line x1="390.4" y1="637.2" x2="396.4" y2="637.2" stroke="#000" stroke-width="1.9"/>
<line x1="390.4" y1="676.5" x2="396.4" y2="676.5" stroke="#000" stroke-width="1.9"/>
<circle cx="393.4" cy="656.8" r="2.8" fill="#000"/>
<line x1="450.4" y1="653.6" x2="450.4" y2="687.8" stroke="#000" stroke-width="1.9"/>
<line x1="447.4" y1="653.6" x2="453.4" y2="653.6" stroke="#000" stroke-width="1.9"/>
<line x1="447.4" y1="687.8" x2="453.4" y2="687.8" stroke="#000" stroke-width="1.9"/>
<circle cx="450.4" cy="673.9" r="2.8" fill="#000"/>
<line x1="507" y1="646.2" x2="507" y2="687.8" stroke="#000" stroke-width="1.9"/>
<line x1="504.0" y1="646.2" x2="510.0" y2="646.2" stroke="#000" stroke-width="1.9"/>
<line x1="504.0" y1="687.8" x2="510.0" y2="687.8" stroke="#000" stroke-width="1.9"/>
<circle cx="507" cy="668" r="2.8" fill="#000"/>
<polyline points="299.9,729.4 323.8,742.2 346.8,755.0 369.9,751.8 393.4,756.7 451.9,755.0 510.1,757.2" stroke="#000" stroke-width="1.9" fill="none" stroke-linejoin="round"/>
<line x1="299.9" y1="716.6" x2="299.9" y2="740" stroke="#000" stroke-width="1.9"/>
<line x1="296.9" y1="716.6" x2="302.9" y2="716.6" stroke="#000" stroke-width="1.9"/>
<line x1="296.9" y1="740" x2="302.9" y2="740" stroke="#000" stroke-width="1.9"/>
<circle cx="299.9" cy="729.4" r="3" fill="#000"/>
<line x1="323.8" y1="731.5" x2="323.8" y2="751.8" stroke="#000" stroke-width="1.9"/>
<line x1="320.8" y1="731.5" x2="326.8" y2="731.5" stroke="#000" stroke-width="1.9"/>
<line x1="320.8" y1="751.8" x2="326.8" y2="751.8" stroke="#000" stroke-width="1.9"/>
<circle cx="323.8" cy="742.2" r="3" fill="#000"/>
<line x1="346.8" y1="746" x2="346.8" y2="763.1" stroke="#000" stroke-width="1.9"/>
<line x1="343.8" y1="746" x2="349.8" y2="746" stroke="#000" stroke-width="1.9"/>
<line x1="343.8" y1="763.1" x2="349.8" y2="763.1" stroke="#000" stroke-width="1.9"/>
<circle cx="346.8" cy="755" r="3" fill="#000"/>
<line x1="369.9" y1="742.2" x2="369.9" y2="761" stroke="#000" stroke-width="1.9"/>
<line x1="366.9" y1="742.2" x2="372.9" y2="742.2" stroke="#000" stroke-width="1.9"/>
<line x1="366.9" y1="761" x2="372.9" y2="761" stroke="#000" stroke-width="1.9"/>
<circle cx="369.9" cy="751.8" r="3" fill="#000"/>
<line x1="393.4" y1="746" x2="393.4" y2="764.8" stroke="#000" stroke-width="1.9"/>
<line x1="390.4" y1="746" x2="396.4" y2="746" stroke="#000" stroke-width="1.9"/>
<line x1="390.4" y1="764.8" x2="396.4" y2="764.8" stroke="#000" stroke-width="1.9"/>
<circle cx="393.4" cy="756.7" r="3" fill="#000"/>
<line x1="451.9" y1="740.5" x2="451.9" y2="767.4" stroke="#000" stroke-width="1.9"/>
<line x1="448.9" y1="740.5" x2="454.9" y2="740.5" stroke="#000" stroke-width="1.9"/>
<line x1="448.9" y1="767.4" x2="454.9" y2="767.4" stroke="#000" stroke-width="1.9"/>
<circle cx="451.9" cy="755" r="3" fill="#000"/>
<line x1="510.1" y1="750.8" x2="510.1" y2="763.6" stroke="#000" stroke-width="1.9"/>
<line x1="507.1" y1="750.8" x2="513.1" y2="750.8" stroke="#000" stroke-width="1.9"/>
<line x1="507.1" y1="763.6" x2="513.1" y2="763.6" stroke="#000" stroke-width="1.9"/>
<circle cx="510.1" cy="757.2" r="3" fill="#000"/>
<line x1="746.7" y1="483" x2="746.7" y2="790.3" stroke="#333" stroke-width="1.8"/>
<line x1="746" y1="789.6" x2="1253.5" y2="789.6" stroke="#555" stroke-width="1.9"/>
<line x1="741" y1="483.98" x2="746.7" y2="483.98" stroke="#333" stroke-width="1.5"/>
<line x1="741" y1="560.36" x2="746.7" y2="560.36" stroke="#333" stroke-width="1.5"/>
<line x1="741" y1="636.74" x2="746.7" y2="636.74" stroke="#333" stroke-width="1.5"/>
<line x1="741" y1="713.12" x2="746.7" y2="713.12" stroke="#333" stroke-width="1.5"/>
<line x1="741" y1="789.5" x2="746.7" y2="789.5" stroke="#333" stroke-width="1.5"/>
<line x1="746.1" y1="789.6" x2="746.1" y2="795" stroke="#333" stroke-width="1.6"/>
<line x1="873.2" y1="789.6" x2="873.2" y2="795" stroke="#333" stroke-width="1.6"/>
<line x1="1000.3000000000001" y1="789.6" x2="1000.3000000000001" y2="795" stroke="#333" stroke-width="1.6"/>
<line x1="1127.4" y1="789.6" x2="1127.4" y2="795" stroke="#333" stroke-width="1.6"/>
<line x1="1254.5" y1="789.6" x2="1254.5" y2="795" stroke="#333" stroke-width="1.6"/>
<text x="735.5" y="491.6" font-size="22.5" text-anchor="end" textLength="36.8" lengthAdjust="spacingAndGlyphs" fill="#222" stroke="#222" stroke-width="0.35">160</text>
<text x="735.5" y="645.5" font-size="22.5" text-anchor="end" textLength="36.8" lengthAdjust="spacingAndGlyphs" fill="#222" stroke="#222" stroke-width="0.35">120</text>
<text x="735.5" y="796.5" font-size="22.5" text-anchor="end" textLength="25.2" lengthAdjust="spacingAndGlyphs" fill="#222" stroke="#222" stroke-width="0.35">80</text>
<text x="746.6" y="817.2" font-size="21.5" text-anchor="middle" fill="#222" stroke="#222" stroke-width="0.35">0</text>
<text x="873.7" y="817.2" font-size="21.5" text-anchor="middle" fill="#222" stroke="#222" stroke-width="0.35">10</text>
<text x="1000.8000000000001" y="817.2" font-size="21.5" text-anchor="middle" fill="#222" stroke="#222" stroke-width="0.35">20</text>
<text x="1127.9" y="817.2" font-size="21.5" text-anchor="middle" fill="#222" stroke="#222" stroke-width="0.35">30</text>
<text x="1255.0" y="817.2" font-size="21.5" text-anchor="middle" fill="#222" stroke="#222" stroke-width="0.35">40</text>
<text x="942" y="849.2" font-size="23" font-weight="bold" textLength="118" lengthAdjust="spacingAndGlyphs" fill="#111">Time (min)</text>
<text x="0" y="0" font-size="23" font-weight="bold" textLength="167" lengthAdjust="spacingAndGlyphs" fill="#111" transform="translate(689.3,714.5) rotate(-90)">EPSP slope (%)</text>
<text x="854.8" y="468.9" font-size="23.5" textLength="56" lengthAdjust="spacingAndGlyphs" fill="#222" stroke="#222" stroke-width="0.35">Flash</text>
<text x="1097.5" y="500.2" font-size="23" textLength="114.5" lengthAdjust="spacingAndGlyphs" fill="#333" stroke="#333" stroke-width="0.35">Ca<tspan font-size="13" dy="-8.5">2+</tspan><tspan dy="8.5">-Nitr-5</tspan></text>
<text x="1101" y="664.3" font-size="23" textLength="127.5" lengthAdjust="spacingAndGlyphs" fill="#111" stroke="#111" stroke-width="0.35">Nitr-5, alone</text>
<line x1="882.9" y1="476.8" x2="882.9" y2="507" stroke="#222" stroke-width="1.1"/>
<polygon points="882.9,511.0 881.0,503.0 884.8,503.0" stroke="#000" stroke-width="0.4" fill="#222" stroke-linejoin="round"/>
<line x1="1096.8" y1="515.5" x2="1046" y2="561.5" stroke="#888" stroke-width="1.5"/>
<polyline points="1054.5,561.5 1041.6,565.2 1047.0,552.3" stroke="#888" stroke-width="1.4" fill="none" stroke-linejoin="round"/>
<line x1="1096.8" y1="668.4" x2="1051" y2="710.5" stroke="#111" stroke-width="1.8"/>
<polygon points="1046.5,714.6 1049.5,705.0 1055.5,711.0" stroke="#000" stroke-width="0.5" fill="#111" stroke-linejoin="round"/>
<polyline points="771.3,720.5 797.1,699.7 822.9,702.2 846.8,714.4 872.6,714.4" stroke="#000" stroke-width="1.3" fill="none" stroke-linejoin="round"/>
<polyline points="771.3,710.7 797.1,722.9 822.9,715.5 846.8,714.4 872.6,712.6" stroke="#000" stroke-width="1.3" fill="none" stroke-linejoin="round"/>
<line x1="771.3" y1="692.3" x2="771.3" y2="725.5" stroke="#000" stroke-width="1.5"/>
<line x1="767.6999999999999" y1="692.3" x2="774.9" y2="692.3" stroke="#000" stroke-width="1.5"/>
<line x1="767.6999999999999" y1="725.5" x2="774.9" y2="725.5" stroke="#000" stroke-width="1.5"/>
<line x1="797.1" y1="694.5" x2="797.1" y2="706" stroke="#000" stroke-width="1.5"/>
<line x1="793.5" y1="694.5" x2="800.7" y2="694.5" stroke="#000" stroke-width="1.5"/>
<line x1="793.5" y1="706" x2="800.7" y2="706" stroke="#000" stroke-width="1.5"/>
<line x1="822.9" y1="694" x2="822.9" y2="720" stroke="#000" stroke-width="1.5"/>
<line x1="819.3" y1="694" x2="826.5" y2="694" stroke="#000" stroke-width="1.5"/>
<line x1="819.3" y1="720" x2="826.5" y2="720" stroke="#000" stroke-width="1.5"/>
<line x1="846.8" y1="699.7" x2="846.8" y2="729" stroke="#000" stroke-width="1.5"/>
<line x1="843.1999999999999" y1="699.7" x2="850.4" y2="699.7" stroke="#000" stroke-width="1.5"/>
<line x1="843.1999999999999" y1="729" x2="850.4" y2="729" stroke="#000" stroke-width="1.5"/>
<line x1="872.6" y1="696" x2="872.6" y2="725.5" stroke="#000" stroke-width="1.5"/>
<line x1="869.0" y1="696" x2="876.2" y2="696" stroke="#000" stroke-width="1.5"/>
<line x1="869.0" y1="725.5" x2="876.2" y2="725.5" stroke="#000" stroke-width="1.5"/>
<line x1="797.1" y1="694" x2="797.1" y2="743.9" stroke="#000" stroke-width="1.5"/>
<line x1="793.5" y1="694" x2="800.7" y2="694" stroke="#000" stroke-width="1.5"/>
<line x1="793.5" y1="743.9" x2="800.7" y2="743.9" stroke="#000" stroke-width="1.5"/>
<line x1="874" y1="710" x2="880.5" y2="688.5" stroke="#000" stroke-width="1.6"/>
<polyline points="898.4,521.8 923.0,589.2 948.8,600.2 973.9,592.9 999.7,594.0 1025.0,594.7 1088.7,569.6 1152.0,594.7 1216.5,577.4" stroke="#000" stroke-width="1.3" fill="none" stroke-linejoin="round"/>
<polyline points="897.6,627.8 923.0,725.5 948.8,720.0 973.9,701.5 999.7,716.2 1025.0,740.2 1088.7,720.0 1152.0,706.0 1216.5,726.5" stroke="#000" stroke-width="1.3" fill="none" stroke-linejoin="round"/>
<line x1="898.4" y1="487.9" x2="898.4" y2="550.5" stroke="#000" stroke-width="1.5"/>
<line x1="894.8" y1="487.9" x2="902.0" y2="487.9" stroke="#000" stroke-width="1.5"/>
<line x1="894.8" y1="550.5" x2="902.0" y2="550.5" stroke="#000" stroke-width="1.5"/>
<line x1="923" y1="563.4" x2="923" y2="613.1" stroke="#000" stroke-width="1.5"/>
<line x1="919.4" y1="563.4" x2="926.6" y2="563.4" stroke="#000" stroke-width="1.5"/>
<line x1="919.4" y1="613.1" x2="926.6" y2="613.1" stroke="#000" stroke-width="1.5"/>
<line x1="948.8" y1="577.4" x2="948.8" y2="621.6" stroke="#000" stroke-width="1.5"/>
<line x1="945.1999999999999" y1="577.4" x2="952.4" y2="577.4" stroke="#000" stroke-width="1.5"/>
<line x1="945.1999999999999" y1="621.6" x2="952.4" y2="621.6" stroke="#000" stroke-width="1.5"/>
<line x1="973.9" y1="573.3" x2="973.9" y2="611.3" stroke="#000" stroke-width="1.5"/>
<line x1="970.3" y1="573.3" x2="977.5" y2="573.3" stroke="#000" stroke-width="1.5"/>
<line x1="970.3" y1="611.3" x2="977.5" y2="611.3" stroke="#000" stroke-width="1.5"/>
<line x1="999.7" y1="577" x2="999.7" y2="609.4" stroke="#000" stroke-width="1.5"/>
<line x1="996.1" y1="577" x2="1003.3000000000001" y2="577" stroke="#000" stroke-width="1.5"/>
<line x1="996.1" y1="609.4" x2="1003.3000000000001" y2="609.4" stroke="#000" stroke-width="1.5"/>
<line x1="1025" y1="580" x2="1025" y2="607.6" stroke="#000" stroke-width="1.5"/>
<line x1="1021.4" y1="580" x2="1028.6" y2="580" stroke="#000" stroke-width="1.5"/>
<line x1="1021.4" y1="607.6" x2="1028.6" y2="607.6" stroke="#000" stroke-width="1.5"/>
<line x1="1088.7" y1="542.4" x2="1088.7" y2="594.7" stroke="#000" stroke-width="1.5"/>
<line x1="1085.1000000000001" y1="542.4" x2="1092.3" y2="542.4" stroke="#000" stroke-width="1.5"/>
<line x1="1085.1000000000001" y1="594.7" x2="1092.3" y2="594.7" stroke="#000" stroke-width="1.5"/>
<line x1="1152" y1="573.7" x2="1152" y2="613.1" stroke="#000" stroke-width="1.5"/>
<line x1="1148.4" y1="573.7" x2="1155.6" y2="573.7" stroke="#000" stroke-width="1.5"/>
<line x1="1148.4" y1="613.1" x2="1155.6" y2="613.1" stroke="#000" stroke-width="1.5"/>
<line x1="1216.5" y1="564.5" x2="1216.5" y2="588" stroke="#000" stroke-width="1.5"/>
<line x1="1212.9" y1="564.5" x2="1220.1" y2="564.5" stroke="#000" stroke-width="1.5"/>
<line x1="1212.9" y1="588" x2="1220.1" y2="588" stroke="#000" stroke-width="1.5"/>
<line x1="897.6" y1="606.5" x2="897.6" y2="646.3" stroke="#000" stroke-width="1.5"/>
<line x1="894.0" y1="606.5" x2="901.2" y2="606.5" stroke="#000" stroke-width="1.5"/>
<line x1="894.0" y1="646.3" x2="901.2" y2="646.3" stroke="#000" stroke-width="1.5"/>
<line x1="923" y1="696" x2="923" y2="754.2" stroke="#000" stroke-width="1.5"/>
<line x1="919.4" y1="696" x2="926.6" y2="696" stroke="#000" stroke-width="1.5"/>
<line x1="919.4" y1="754.2" x2="926.6" y2="754.2" stroke="#000" stroke-width="1.5"/>
<line x1="948.8" y1="690.5" x2="948.8" y2="748.7" stroke="#000" stroke-width="1.5"/>
<line x1="945.1999999999999" y1="690.5" x2="952.4" y2="690.5" stroke="#000" stroke-width="1.5"/>
<line x1="945.1999999999999" y1="748.7" x2="952.4" y2="748.7" stroke="#000" stroke-width="1.5"/>
<line x1="973.9" y1="680.1" x2="973.9" y2="723.6" stroke="#000" stroke-width="1.5"/>
<line x1="970.3" y1="680.1" x2="977.5" y2="680.1" stroke="#000" stroke-width="1.5"/>
<line x1="970.3" y1="723.6" x2="977.5" y2="723.6" stroke="#000" stroke-width="1.5"/>
<line x1="999.7" y1="702.2" x2="999.7" y2="730.2" stroke="#000" stroke-width="1.5"/>
<line x1="996.1" y1="702.2" x2="1003.3000000000001" y2="702.2" stroke="#000" stroke-width="1.5"/>
<line x1="996.1" y1="730.2" x2="1003.3000000000001" y2="730.2" stroke="#000" stroke-width="1.5"/>
<line x1="1025" y1="723.6" x2="1025" y2="756" stroke="#000" stroke-width="1.5"/>
<line x1="1021.4" y1="723.6" x2="1028.6" y2="723.6" stroke="#000" stroke-width="1.5"/>
<line x1="1021.4" y1="756" x2="1028.6" y2="756" stroke="#000" stroke-width="1.5"/>
<line x1="1088.7" y1="702.2" x2="1088.7" y2="735.4" stroke="#000" stroke-width="1.5"/>
<line x1="1085.1000000000001" y1="702.2" x2="1092.3" y2="702.2" stroke="#000" stroke-width="1.5"/>
<line x1="1085.1000000000001" y1="735.4" x2="1092.3" y2="735.4" stroke="#000" stroke-width="1.5"/>
<line x1="1152" y1="677.6" x2="1152" y2="734" stroke="#000" stroke-width="1.5"/>
<line x1="1148.4" y1="677.6" x2="1155.6" y2="677.6" stroke="#000" stroke-width="1.5"/>
<line x1="1148.4" y1="734" x2="1155.6" y2="734" stroke="#000" stroke-width="1.5"/>
<line x1="1216.5" y1="702.2" x2="1216.5" y2="750.1" stroke="#000" stroke-width="1.5"/>
<line x1="1212.9" y1="702.2" x2="1220.1" y2="702.2" stroke="#000" stroke-width="1.5"/>
<line x1="1212.9" y1="750.1" x2="1220.1" y2="750.1" stroke="#000" stroke-width="1.5"/>
<polygon points="896.5,531.0 893.5,545.0 899.5,545.0" stroke="#000" stroke-width="1.1" fill="#fff" stroke-linejoin="round"/>
<polygon points="896.5,628.0 893.5,641.0 899.5,641.0" stroke="#000" stroke-width="1.1" fill="#fff" stroke-linejoin="round"/>
<circle cx="898.4" cy="521.8" r="2.6" fill="#000"/>
<circle cx="923" cy="589.2" r="2.6" fill="#000"/>
<circle cx="948.8" cy="600.2" r="2.6" fill="#000"/>
<circle cx="973.9" cy="592.9" r="2.6" fill="#000"/>
<circle cx="999.7" cy="594" r="2.6" fill="#000"/>
<circle cx="1025" cy="594.7" r="2.6" fill="#000"/>
<circle cx="1088.7" cy="569.6" r="2.6" fill="#000"/>
<circle cx="1152" cy="594.7" r="2.6" fill="#000"/>
<circle cx="1216.5" cy="577.4" r="2.6" fill="#000"/>
<circle cx="771.3" cy="720.5" r="2.6" fill="#000"/>
<circle cx="797.1" cy="699.7" r="2.6" fill="#000"/>
<circle cx="822.9" cy="702.2" r="2.6" fill="#000"/>
<circle cx="846.8" cy="714.4" r="2.6" fill="#000"/>
<circle cx="872.6" cy="714.4" r="2.6" fill="#000"/>
<circle cx="897.6" cy="627.8" r="2.4" fill="#fff" stroke="#000" stroke-width="1.1"/>
<circle cx="923" cy="725.5" r="2.4" fill="#fff" stroke="#000" stroke-width="1.1"/>
<circle cx="948.8" cy="720" r="2.4" fill="#fff" stroke="#000" stroke-width="1.1"/>
<circle cx="973.9" cy="701.5" r="2.4" fill="#fff" stroke="#000" stroke-width="1.1"/>
<circle cx="999.7" cy="716.2" r="2.4" fill="#fff" stroke="#000" stroke-width="1.1"/>
<circle cx="1025" cy="740.2" r="2.4" fill="#fff" stroke="#000" stroke-width="1.1"/>
<circle cx="1088.7" cy="720" r="2.4" fill="#fff" stroke="#000" stroke-width="1.1"/>
<circle cx="1152" cy="706" r="2.4" fill="#fff" stroke="#000" stroke-width="1.1"/>
<circle cx="1216.5" cy="726.5" r="2.4" fill="#fff" stroke="#000" stroke-width="1.1"/>
<circle cx="771.3" cy="710.7" r="2.4" fill="#fff" stroke="#000" stroke-width="1.1"/>
<circle cx="797.1" cy="722.9" r="2.4" fill="#fff" stroke="#000" stroke-width="1.1"/>
<circle cx="822.9" cy="715.5" r="2.4" fill="#fff" stroke="#000" stroke-width="1.1"/>
<circle cx="846.8" cy="714.4" r="2.4" fill="#fff" stroke="#000" stroke-width="1.1"/>
<circle cx="872.6" cy="712.6" r="2.4" fill="#fff" stroke="#000" stroke-width="1.1"/>
</svg>
<div class="t" id="c1" style="left:798px;top:401.9px;font-size:23.3px;">Tsien, R.Y. and Zucker, R.S., <i>Biophys. J.</i> (1986)</div>
<div class="t" id="c2" style="left:954px;top:876.9px;font-size:27px;">Malenka et al., <i>Science</i> (1988)</div>
<div class="t" id="c3" style="left:7px;top:864px;font-size:27.2px;">Malenka et al., <i>Science</i> (1988),</div>
<div class="t" id="c4" style="left:8px;top:895.6px;font-size:27.2px;">see also Lynch et al., <i>Nature</i> (1983)</div>
<div class="t" id="l1" style="left:3.3px;top:938px;font-size:34.85px;">Ca<sup>2+</sup> entry through NMDARs is both <u>necessary</u> and <u>sufficient</u> for LTP.</div>
<div class="t" id="l2" style="left:4px;top:988px;font-size:34.8px;">What is/are the downstream target(s) of Ca<sup>2+</sup>?</div>
<div class="t" id="l3" style="left:752px;top:988px;font-size:34.85px;">PKA (type 1/ 8 AC), PKC, PKM, CaMKII</div>
</div>
</body></html>
